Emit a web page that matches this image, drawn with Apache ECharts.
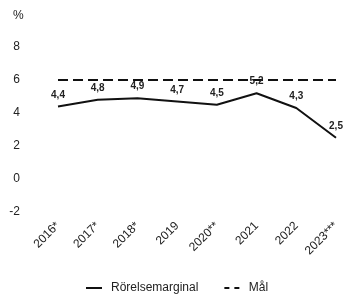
<!DOCTYPE html>
<html>
<head>
<meta charset="utf-8">
<script src="https://cdn.jsdelivr.net/npm/echarts@6/dist/echarts.min.js"></script>
<style>
  html, body { margin: 0; padding: 0; background: #fff; }
  #chart { width: 347px; height: 300px; }
</style>
</head>
<body>
<div id="chart"></div>
<script>
// år och värden
const years = ['2016*', '2017*', '2018*', '2019', '2020**', '2021', '2022', '2023***']
const margin = [4.4, 4.8, 4.9, 4.7, 4.5, 5.2, 4.3, 2.5]
const target = [6, 6, 6, 6, 6, 6, 6, 6]
const yTicks = [-2, 0, 2, 4, 6, 8]

const font = 'Arial, "Liberation Sans", sans-serif'
const chart = echarts.init(document.getElementById('chart'))

chart.setOption({
  animation: false,
  title: {
    text: '%',
    left: 8,
    top: 5,
    textStyle: { fontFamily: font, fontSize: 12, fontWeight: 'normal', color: '#222' }
  },
  grid: { left: 58, right: 11, top: 47, height: 165 },
  legend: {
    bottom: 1,
    left: 81,
    itemWidth: 16,
    itemHeight: 2,
    itemGap: 26,
    textStyle: { fontFamily: font, fontSize: 12, color: '#222', padding: [0, 0, 0, 4] },
    data: [
      { name: 'Rörelsemarginal', icon: 'path://M0,0h16v2h-16z', itemStyle: { color: '#111' } },
      { name: 'Mål', icon: 'path://M0,0h5v2h-5zM10,0h5v2h-5z', itemStyle: { color: '#111' } }
    ]
  },
  xAxis: {
    type: 'category',
    data: years,
    boundaryGap: false,
    axisLine: { show: false },
    axisTick: { show: false },
    axisLabel: {
      rotate: 45,
      margin: 12,
      interval: 0,
      fontFamily: font,
      fontSize: 12,
      color: '#222'
    }
  },
  yAxis: {
    type: 'value',
    min: yTicks[0],
    max: yTicks[yTicks.length - 1],
    interval: 2,
    splitLine: { show: false },
    axisLine: { show: false },
    axisTick: { show: false },
    axisLabel: {
      margin: 38,
      fontFamily: font,
      fontSize: 12,
      color: '#222'
    }
  },
  series: [
    {
      name: 'Rörelsemarginal',
      type: 'line',
      data: margin,
      symbol: 'circle',
      symbolSize: 1,
      showSymbol: true,
      lineStyle: { color: '#111', width: 2 },
      itemStyle: { color: 'rgba(0,0,0,0)' },
      label: {
        show: true,
        position: 'top',
        distance: 6,
        fontFamily: font,
        fontSize: 10,
        fontWeight: 'bold',
        color: '#222',
        formatter: p => String(p.value).replace('.', ',')
      }
    },
    {
      name: 'Mål',
      type: 'line',
      data: target,
      symbol: 'none',
      lineStyle: { color: '#111', width: 2, type: [10, 5] },
      itemStyle: { color: '#111' }
    }
  ]
})
</script>
</body>
</html>
